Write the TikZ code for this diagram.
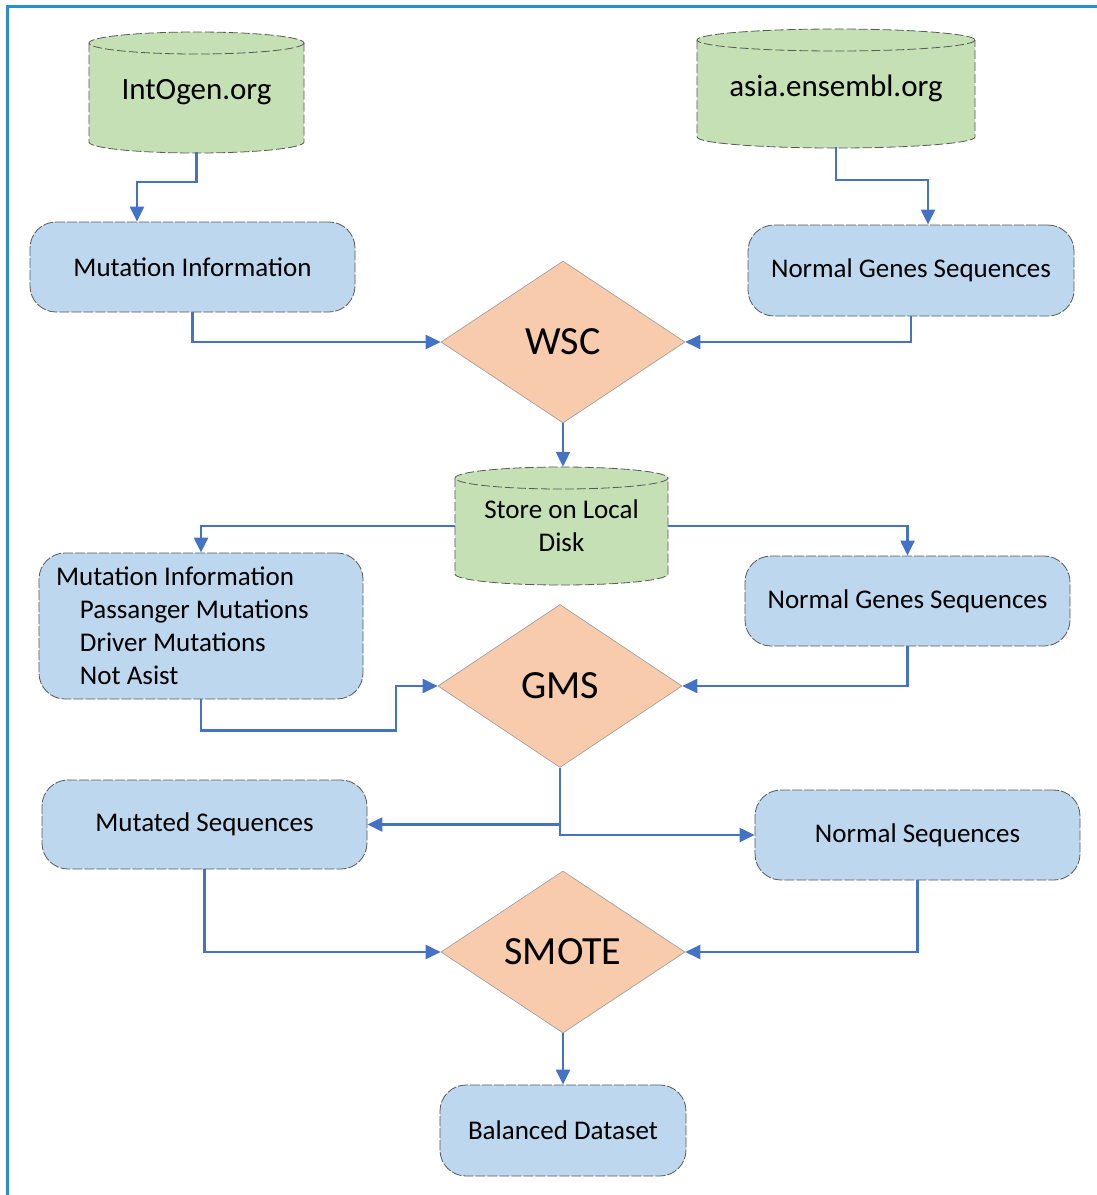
\documentclass[tikz,border=0pt]{standalone}
\usepackage{fontspec}
\setmainfont{Carlito}
\usetikzlibrary{shapes.geometric,arrows.meta,calc}

\definecolor{frameblue}{HTML}{2A8ECF}
\definecolor{flowblue}{HTML}{4472C4}
\definecolor{boxblue}{HTML}{BDD7EE}
\definecolor{dbgreen}{HTML}{C5E0B4}
\definecolor{decpeach}{HTML}{F8CBAD}

\tikzset{
  procbox/.style={rectangle, rounded corners=26pt, fill=boxblue, draw=black!65,
    line width=0.8pt, dash pattern=on 10pt off 2pt, inner sep=0pt,
    font=\fontsize{27}{33}\selectfont},
  decision/.style={diamond, fill=decpeach, draw=black!40, line width=0.6pt,
    minimum width=244pt, minimum height=162pt, inner sep=0pt,
    font=\fontsize{40}{48}\selectfont},
  dbnode/.style={rectangle, inner sep=0pt, align=center},
  dboutline/.style={draw=black!65, line width=0.8pt, dash pattern=on 9pt off 3pt},
  flow/.style={draw=flowblue, line width=2.2pt, -{Triangle[length=15pt,width=14pt]}},
}

% database cylinder: left, right, x radius, top centre, bottom centre, y radius
\newcommand\dbcyl[6]{%
  \fill[dbgreen] (#1,#4) -- (#1,#5)
    arc[start angle=180, end angle=0, x radius=#3, y radius=#6]
    -- (#2,#4)
    arc[start angle=0, end angle=-180, x radius=#3, y radius=#6] -- cycle;
  \draw[dboutline] (#1,#4) -- (#1,#5)
    arc[start angle=180, end angle=0, x radius=#3, y radius=#6] -- (#2,#4);
  \draw[dboutline] ({(#1+#2)/2},#4) ellipse[x radius=#3, y radius=#6];
}

\begin{document}
\begin{tikzpicture}[x=1pt, y=1pt, yscale=-1]
  \useasboundingbox (0,0) rectangle (1097,1195);

  % frame (top and left edges)
  \draw[frameblue, line width=3pt] (7,1195) -- (7,6) -- (1097,6);

  % data sources and local store
  \dbcyl{89}{304}{107.5}{43}{142}{11}
  \dbcyl{697}{975}{139}{40}{137}{11}
  \dbcyl{455}{668}{106.5}{478}{574}{11}

  \node[dbnode, minimum width=215pt, minimum height=120pt,
        font=\fontsize{31}{36}\selectfont] (intogen) at (196.5,92) {IntOgen.org};
  \node[dbnode, minimum width=278pt, minimum height=118pt,
        font=\fontsize{31}{36}\selectfont] (asia) at (836,88) {asia.ensembl.org};
  \node[dbnode, minimum width=213pt, minimum height=118pt,
        font=\fontsize{27}{33}\selectfont] (store) at (561.5,526) {Store on Local\\Disk};

  % process boxes
  \node[procbox, minimum width=325pt, minimum height=90pt] (mi1) at (192.5,267) {Mutation Information};
  \node[procbox, minimum width=326pt, minimum height=91pt] (ngs1) at (911,270.5) {Normal Genes Sequences};
  \node[procbox, minimum width=324pt, minimum height=146pt, text width=290pt,
        inner xsep=17pt, align=flush left] (mi2) at (201,626)
       {Mutation Information\\
        \hspace*{24pt}Passanger Mutations\\
        \hspace*{24pt}Driver Mutations\\
        \hspace*{24pt}Not Asist};
  \node[procbox, minimum width=325pt, minimum height=90pt] (ngs2) at (907.5,601) {Normal Genes Sequences};
  \node[procbox, minimum width=325pt, minimum height=89pt] (mut) at (204.5,824.5) {Mutated Sequences};
  \node[procbox, minimum width=325pt, minimum height=90pt] (nrm) at (917.5,835) {Normal Sequences};
  \node[procbox, minimum width=246pt, minimum height=91pt] (bal) at (563,1130.5) {Balanced Dataset};

  % decisions
  \node[decision] (wsc) at (563,342) {WSC};
  \node[decision, minimum height=163pt] (gms) at (560,686) {GMS};
  \node[decision] (smote) at (563,952) {SMOTE};

  % connectors
  \draw[flow] (intogen.south) -- ++(0,30) -| ($(mi1.north)+(-55.5,0)$);
  \draw[flow] (asia.south) -- ++(0,33) -| ($(ngs1.north)+(17,0)$);
  \draw[flow] (mi1.south) |- (wsc.west);
  \draw[flow] (ngs1.south) |- (wsc.east);
  \draw[flow] (wsc.south) -- (wsc.south |- store.north);
  \draw[flow] (store.west) -| (mi2.north);
  \draw[flow] (store.east) -| (ngs2.north);
  \draw[flow] (mi2.south) -- ++(0,31) -| ($(gms.west)+(-42,0)$) -- (gms.west);
  \draw[flow] (ngs2.south) |- (gms.east);
  \draw[flow] (gms.south) |- (mut.east);
  \draw[flow] (gms.south) |- (nrm.west);
  \draw[flow] (mut.south) |- (smote.west);
  \draw[flow] (nrm.south) |- (smote.east);
  \draw[flow] (smote.south) -- (bal.north);
\end{tikzpicture}
\end{document}
